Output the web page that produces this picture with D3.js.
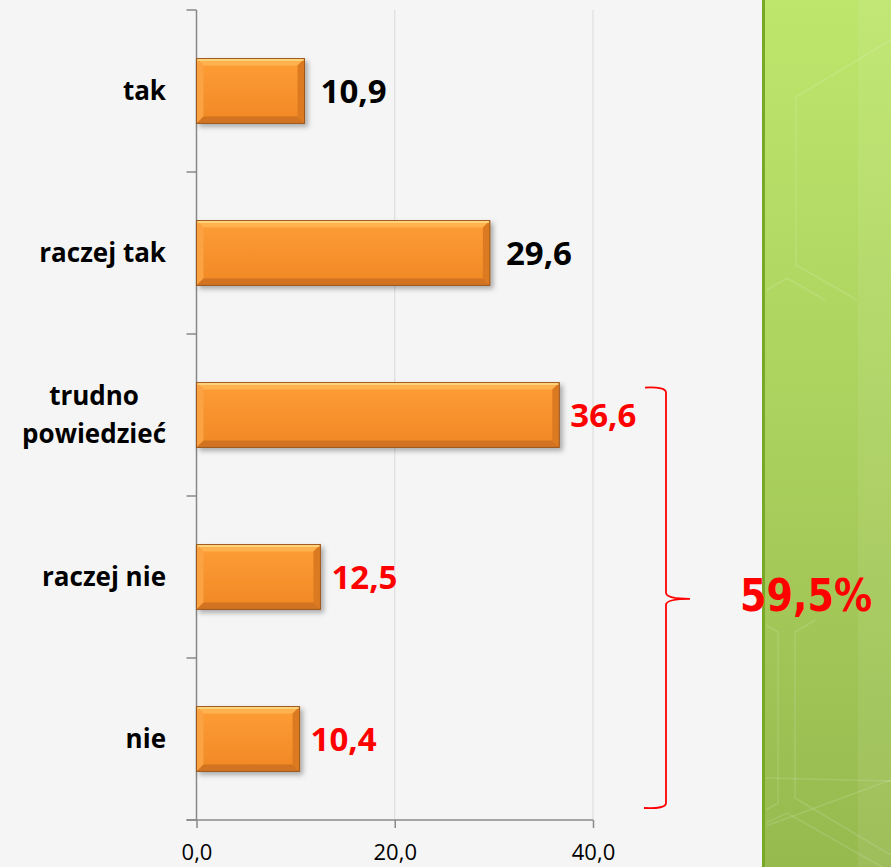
<!DOCTYPE html>
<meta charset="utf-8">
<style>
    body {
        margin: 0;
        background: #f5f5f5;
    }

    svg {
        display: block;
        font-family: "Open Sans", sans-serif;
    }

    .grid line {
        stroke: #d9d9d9;
        stroke-width: 1px;
    }

    .axis path, .axis line {
        stroke: #898989;
        stroke-width: 1.5px;
    }
</style>

<svg width="891" height="867"></svg>

<script src="https://cdn.jsdelivr.net/npm/d3@7"></script>
<script>
    // dane
    var categories = ["tak", "raczej tak", "trudno powiedzieć", "raczej nie", "nie"];
    var values = [10.9, 29.6, 36.6, 12.5, 10.4];
    var labelLines = [["tak"], ["raczej tak"], ["trudno", "powiedzieć"], ["raczej nie"], ["nie"]];
    var highlighted = [false, false, true, true, true];
    var xTicks = [0, 20, 40];
    var xDomain = [0, 40];
    var sumLabel = "59,5%";

    (function () {
        var svg = d3.select("svg"),
            width = +svg.attr("width"),
            height = +svg.attr("height"),
            plotTop = 10,
            plotBottom = 820,
            plotLeft = 196.5,
            plotRight = 593,
            locale = d3.formatLocale({decimal: ",", thousands: " ", grouping: [3], currency: ["", " zł"]}),
            fmt = locale.format(".1f");

        var x = d3.scaleLinear().domain(xDomain).range([plotLeft, plotRight]),
            y = d3.scaleBand().domain(categories).range([plotTop, plotBottom])
                .paddingInner(0.6).paddingOuter(0.3);

        var defs = svg.append("defs");

        var body = defs.append("linearGradient").attr("id", "barBody")
            .attr("x1", 0).attr("y1", 0).attr("x2", 0).attr("y2", 1);
        body.append("stop").attr("offset", "0%").attr("stop-color", "#fe9d36");
        body.append("stop").attr("offset", "100%").attr("stop-color", "#f08825");

        var panel = defs.append("linearGradient").attr("id", "panel")
            .attr("x1", 0).attr("y1", 0).attr("x2", 0).attr("y2", 1);
        panel.append("stop").attr("offset", "0%").attr("stop-color", "#bee66c");
        panel.append("stop").attr("offset", "100%").attr("stop-color", "#97ba4f");

        var shadow = defs.append("filter").attr("id", "shadow")
            .attr("x", "-10%").attr("y", "-10%").attr("width", "130%").attr("height", "140%");
        shadow.append("feDropShadow").attr("dx", 3).attr("dy", 3).attr("stdDeviation", 2.5)
            .attr("flood-color", "#000").attr("flood-opacity", 0.3);

        // tło
        svg.append("rect").attr("width", width).attr("height", height).attr("fill", "#f5f5f5");

        // zielony panel z prawej
        var p = svg.append("g");
        p.append("rect").attr("x", 763).attr("y", 0).attr("width", width - 763).attr("height", height)
            .attr("fill", "url(#panel)");
        p.append("rect").attr("x", 858).attr("y", 0).attr("width", width - 858).attr("height", height)
            .attr("fill", "#fff").attr("opacity", 0.07);
        p.append("rect").attr("x", 762).attr("y", 0).attr("width", 3).attr("height", height)
            .attr("fill", "#77a826");
        var deco = [
            [[796, 97], [891, 40]],
            [[796, 97], [796, 265], [857, 300]],
            [[767, 290], [787, 278], [825, 300]],
            [[766, 625], [778, 632], [778, 803], [766, 810]],
            [[815, 620], [795, 632], [795, 798], [891, 855]],
            [[766, 778], [891, 781]],
            [[766, 826], [891, 780]],
            [[766, 823], [787, 813], [891, 872]]
        ];
        p.selectAll("polyline.deco").data(deco).enter().append("polyline")
            .attr("class", "deco")
            .attr("points", function (d) { return d.join(" "); })
            .attr("fill", "none").attr("stroke", "#fff").attr("stroke-opacity", 0.13).attr("stroke-width", 1.5);

        // linie siatki
        svg.append("g").attr("class", "grid").selectAll("line")
            .data(xTicks.slice(1)).enter().append("line")
            .attr("x1", function (d) { return x(d); }).attr("x2", function (d) { return x(d); })
            .attr("y1", plotTop).attr("y2", plotBottom);

        // oś Y z podziałkami między kategoriami
        var gap = (y.step() - y.bandwidth()) / 2,
            bounds = categories.map(function (d) { return y(d) - gap; }).concat([plotBottom]);
        var yAxis = svg.append("g").attr("class", "axis");
        yAxis.append("line").attr("x1", plotLeft).attr("x2", plotLeft).attr("y1", plotTop).attr("y2", plotBottom);
        yAxis.selectAll("line.tick").data(bounds).enter().append("line")
            .attr("class", "tick")
            .attr("x1", plotLeft - 10).attr("x2", plotLeft)
            .attr("y1", function (d) { return d; }).attr("y2", function (d) { return d; });

        // oś X
        var xAxis = svg.append("g").attr("class", "axis")
            .attr("transform", "translate(0," + plotBottom + ")")
            .call(d3.axisBottom(x).tickValues(xTicks).tickFormat(fmt).tickSizeInner(8).tickSizeOuter(0));
        xAxis.select(".domain").attr("d", "M" + (plotLeft - 10) + ",0H" + plotRight);
        xAxis.selectAll("text")
            .attr("y", 40).attr("dy", null)
            .attr("fill", "#000").attr("font-size", 22)
            .attr("font-family", "'Open Sans', sans-serif");

        // słupki z fazowaniem
        var b = 7;
        var bars = svg.append("g").selectAll("g.bar")
            .data(categories).enter().append("g")
            .attr("class", "bar")
            .attr("filter", "url(#shadow)");

        bars.each(function (d, i) {
            var g = d3.select(this),
                x0 = x(0), x1 = x(values[i]),
                y0 = y(d), y1 = y(d) + y.bandwidth();
            g.append("rect").attr("x", x0).attr("y", y0).attr("width", x1 - x0).attr("height", y1 - y0)
                .attr("fill", "url(#barBody)");
            g.append("polygon").attr("points", [[x0, y0], [x1, y0], [x1 - b, y0 + b], [x0 + b, y0 + b]].join(" "))
                .attr("fill", "#ffb24e");
            g.append("polygon").attr("points", [[x0, y0], [x0 + b, y0 + b], [x0 + b, y1 - b], [x0, y1]].join(" "))
                .attr("fill", "#fba243");
            g.append("polygon").attr("points", [[x1, y0], [x1, y1], [x1 - b, y1 - b], [x1 - b, y0 + b]].join(" "))
                .attr("fill", "#dc7a22");
            g.append("polygon").attr("points", [[x0, y1], [x1, y1], [x1 - b, y1 - b], [x0 + b, y1 - b]].join(" "))
                .attr("fill", "#d27322");
            g.append("rect").attr("x", x0).attr("y", y0).attr("width", x1 - x0).attr("height", y1 - y0)
                .attr("fill", "none").attr("stroke", "#9a561c").attr("stroke-width", 1);
            g.append("line").attr("x1", x0 + 1).attr("x2", x1 - 1).attr("y1", y0 + 1.5).attr("y2", y0 + 1.5)
                .attr("stroke", "#ffd27a").attr("stroke-width", 2);
        });

        // wartości
        svg.append("g").selectAll("text")
            .data(categories).enter().append("text")
            .attr("x", function (d, i) { return x(values[i]) + (highlighted[i] ? 11 : 16); })
            .attr("y", function (d) { return y(d) + y.bandwidth() / 2; })
            .attr("dy", "0.36em")
            .attr("font-size", 33).attr("font-weight", "bold")
            .attr("fill", function (d, i) { return highlighted[i] ? "#ff0000" : "#000"; })
            .text(function (d, i) { return fmt(values[i]); });

        // etykiety kategorii
        var labels = svg.append("g").selectAll("text")
            .data(categories).enter().append("text")
            .attr("font-size", 26).attr("font-weight", "bold").attr("fill", "#000");

        labels.each(function (d, i) {
            var t = d3.select(this),
                lines = labelLines[i],
                lh = 38,
                cy = y(d) + y.bandwidth() / 2 - (lines.length - 1) * lh / 2;
            t.selectAll("tspan").data(lines).enter().append("tspan")
                .attr("y", function (l, j) { return cy + j * lh; })
                .attr("dy", "0.36em")
                .text(function (l) { return l; });
            var widths = [];
            t.selectAll("tspan").each(function () { widths.push(this.getComputedTextLength()); });
            var maxW = d3.max(widths);
            t.selectAll("tspan").attr("text-anchor", "middle").attr("x", 166 - maxW / 2);
        });

        // klamra
        var bTop = y("trudno powiedzieć") + 5,
            bBot = plotBottom - 12,
            bMid = (bTop + bBot) / 2 + 1,
            bx = 666;
        svg.append("path")
            .attr("d", "M" + (bx - 21) + "," + bTop + "Q" + bx + "," + (bTop - 1) + " " + bx + "," + (bTop + 5)
                + "V" + (bMid - 6) + "Q" + bx + "," + bMid + " " + (bx + 24) + "," + bMid
                + "Q" + bx + "," + bMid + " " + bx + "," + (bMid + 6)
                + "V" + (bBot - 5) + "Q" + bx + "," + (bBot + 1) + " " + (bx - 22) + "," + bBot)
            .attr("fill", "none").attr("stroke", "#ff0000").attr("stroke-width", 1.8);

        svg.append("text")
            .attr("x", 740).attr("y", bMid + 12)
            .attr("font-family", "'DejaVu Sans Condensed', 'DejaVu Sans', sans-serif")
            .attr("font-size", 44).attr("font-weight", "bold")
            .attr("textLength", 132).attr("lengthAdjust", "spacingAndGlyphs")
            .attr("fill", "#ff0000")
            .text(sumLabel);
    })();
</script>
